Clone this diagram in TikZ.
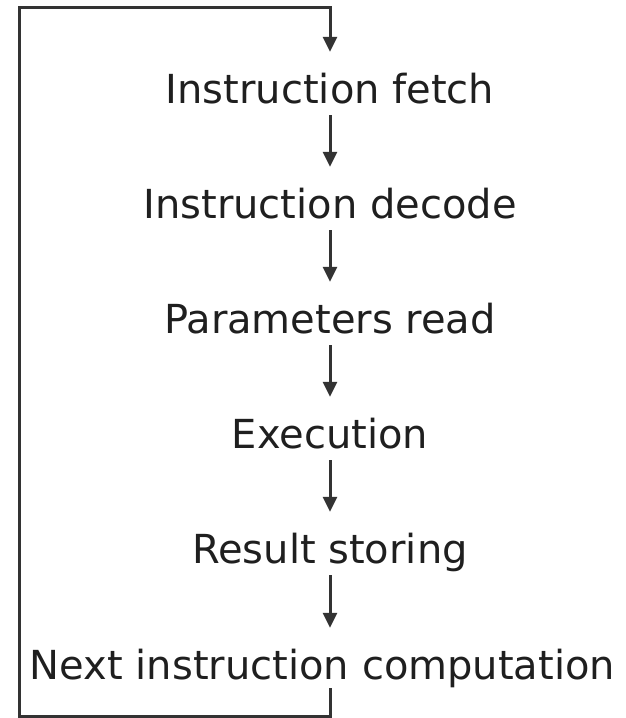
\documentclass[tikz,border=0pt]{standalone}
\usepackage{fontspec}
\setmainfont{DejaVu Sans}
\usetikzlibrary{arrows.meta}
\begin{document}
\begin{tikzpicture}[x=1pt,y=-1pt,
  stage/.style={anchor=base,inner sep=0pt,text height=30pt,text depth=9pt,
    font=\fontsize{40}{48}\selectfont,text=black!88},
  conn/.style={line width=3pt,draw=black!80},
  arr/.style={conn,-{Triangle[width=14pt,length=15pt]},shorten >=21pt,shorten <=3pt}]
\useasboundingbox (0,0) rectangle (625,718);
\node[stage] (fetch)  at (330,103) {Instruction fetch};
\node[stage] (decode) at (330,218) {Instruction decode};
\node[stage] (params) at (330,333) {Parameters read};
\node[stage] (exec)   at (330,448) {Execution};
\node[stage] (result) at (330,563) {Result storing};
\node[stage] (next)   at (322.5,679) {Next instruction computation};
\coordinate (tr) at (330,7);
\coordinate (tl) at (19,7);
\coordinate (bl) at (19,716);
\draw[arr] (fetch.south) -- (decode.north);
\draw[arr] (decode.south) -- (params.north);
\draw[arr] (params.south) -- (exec.north);
\draw[arr] (exec.south) -- (result.north);
\draw[arr] (result.south) -- (result.south |- next.north);
\draw[conn,-{Triangle[width=14pt,length=15pt]},shorten >=21pt,line join=miter]
  (next.south -| tr) -- (tr |- bl) -- (bl) -- (tl) -- (tr) -- (fetch.north);
\end{tikzpicture}
\end{document}
